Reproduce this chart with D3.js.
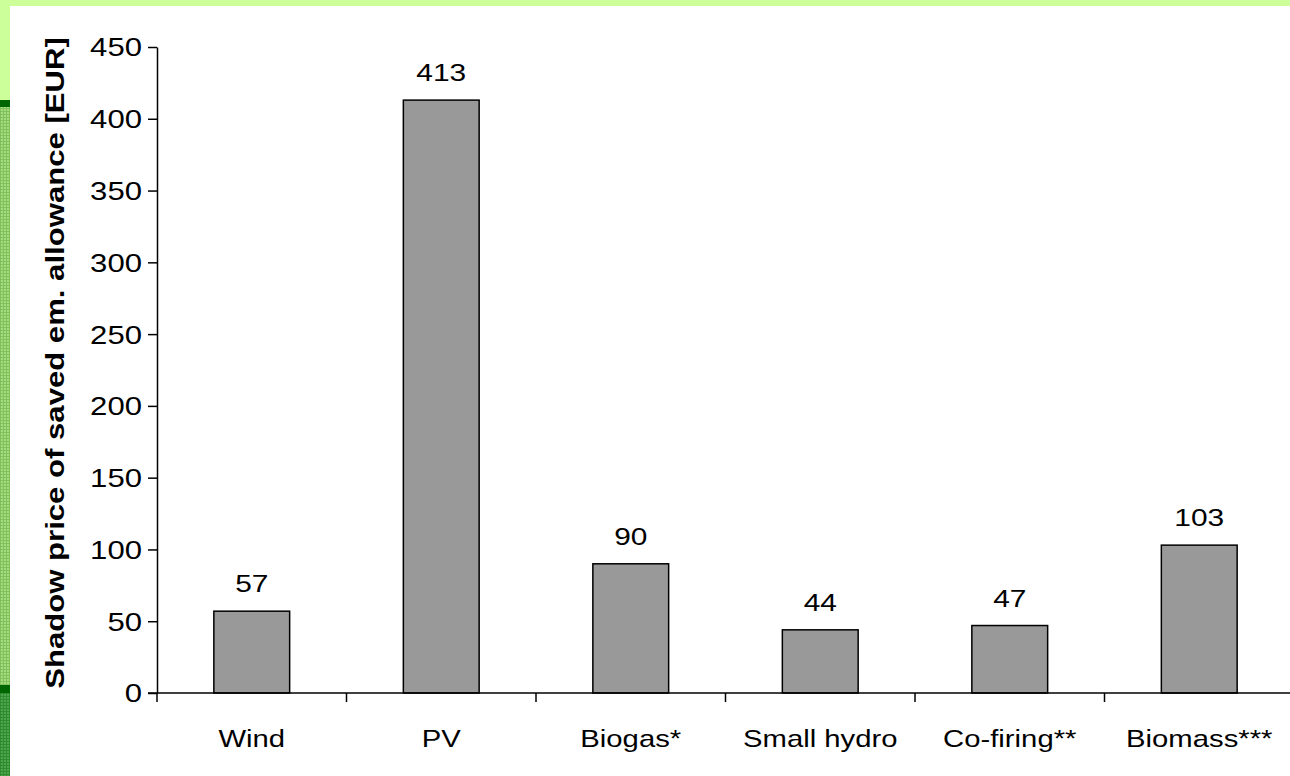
<!DOCTYPE html>
<html><head><meta charset="utf-8">
<script src="https://cdn.jsdelivr.net/npm/d3@7"></script>
<style>html,body{margin:0;padding:0;background:#fff;overflow:hidden}svg{display:block}</style>
</head><body>
<svg id="c" width="1290" height="776"></svg>
<script>
const categories = ["Wind","PV","Biogas*","Small hydro","Co-firing**","Biomass***"];
const values = [57,413,90,44,47,103];
const yTicks = [0,50,100,150,200,250,300,350,400,450];
const yTitle = "Shadow price of saved em. allowance [EUR]";

const svg = d3.select("#c");
const W = 1290, H = 776;
const SX = 1.22; // horizontal stretch of glyphs seen in the reference

// decorative frame
const defs = svg.append("defs");
const p1 = defs.append("pattern").attr("id","pm").attr("width",3).attr("height",3).attr("patternUnits","userSpaceOnUse");
p1.append("rect").attr("width",3).attr("height",3).attr("fill","#a6db80");
p1.append("rect").attr("width",1).attr("height",3).attr("fill","#7fc05a");
p1.append("rect").attr("width",3).attr("height",1).attr("fill","#7fc05a");
const p2 = defs.append("pattern").attr("id","pd").attr("width",3).attr("height",3).attr("patternUnits","userSpaceOnUse");
p2.append("rect").attr("width",3).attr("height",3).attr("fill","#4da64d");
p2.append("rect").attr("width",1).attr("height",3).attr("fill","#2e8b2e");
p2.append("rect").attr("width",3).attr("height",1).attr("fill","#2e8b2e");

svg.append("rect").attr("x",0).attr("y",0).attr("width",W).attr("height",6).attr("fill","#ccff99");
svg.append("rect").attr("x",0).attr("y",0).attr("width",10).attr("height",100).attr("fill","#ccff99");
svg.append("rect").attr("x",0).attr("y",100).attr("width",10).attr("height",7).attr("fill","#006600");
svg.append("rect").attr("x",0).attr("y",107).attr("width",10).attr("height",578).attr("fill","url(#pm)");
svg.append("rect").attr("x",0).attr("y",685).attr("width",10).attr("height",8).attr("fill","#006600");
svg.append("rect").attr("x",0).attr("y",693).attr("width",10).attr("height",H-693).attr("fill","url(#pd)");

const x0 = 157, x1 = 1294, yTop = 47, yBot = 693;
const x = d3.scaleBand().domain(categories).range([x0,x1]).paddingInner(0.6).paddingOuter(0.3);
const xb = d3.scaleBand().domain(categories).range([x0,x1]);
const y = d3.scaleLinear().domain([0,450]).range([yBot,yTop]);

const font = "'Liberation Sans', Arial, Helvetica, sans-serif";

// bars
svg.append("g").selectAll("rect").data(values).join("rect")
  .attr("x",(d,i)=>x(categories[i]))
  .attr("y",d=>y(d))
  .attr("width",x.bandwidth())
  .attr("height",d=>yBot-y(d))
  .attr("fill","#999999").attr("stroke","#000").attr("stroke-width",1.5);

// value labels
svg.append("g").selectAll("text").data(values).join("text")
  .attr("transform",(d,i)=>`translate(${xb(categories[i])+xb.bandwidth()/2},${y(d)-19}) scale(${SX},1)`)
  .attr("text-anchor","middle").attr("font-family",font).attr("font-size",24.5).attr("fill","#000")
  .text(d=>d);

// y axis
const ya = svg.append("g").attr("transform",`translate(${x0},0)`)
  .call(d3.axisLeft(y).tickValues(yTicks).tickSize(9).tickPadding(6).tickSizeOuter(0));
ya.select(".domain").attr("stroke","#000").attr("stroke-width",1.5);
ya.selectAll(".tick line").attr("stroke","#000").attr("stroke-width",1.5);
ya.selectAll(".tick text").attr("font-family",font).attr("font-size",25.5).attr("fill","#000")
  .attr("dy","0.35em")
  .each(function(){ const t=d3.select(this); const xx=+t.attr("x"); t.attr("x",null).attr("transform",`translate(${xx},0) scale(${SX},1)`); });

// x axis
const xa = svg.append("g").attr("transform",`translate(0,${yBot})`)
  .call(d3.axisBottom(xb).tickSize(0).tickPadding(0).tickSizeOuter(0));
xa.select(".domain").attr("d",`M${x0-9},0H${W}`).attr("stroke","#000").attr("stroke-width",1.5);
xa.selectAll(".tick text").remove();
xa.selectAll(".tick line").remove();
// category boundary ticks
svg.append("g").selectAll("line").data(categories).join("line")
  .attr("x1",d=>xb(d)).attr("x2",d=>xb(d)).attr("y1",yBot).attr("y2",yBot+9)
  .attr("stroke","#000").attr("stroke-width",1.5);
// category labels
svg.append("g").selectAll("text").data(categories).join("text")
  .attr("transform",d=>`translate(${xb(d)+xb.bandwidth()/2},747) scale(${SX},1)`)
  .attr("text-anchor","middle").attr("font-family",font).attr("font-size",24).attr("fill","#000")
  .text(d=>d);

// y title
svg.append("text")
  .attr("transform",`translate(64,363) rotate(-90) scale(${SX},1)`)
  .attr("text-anchor","middle").attr("font-family",font).attr("font-size",25.5).attr("font-weight","bold").attr("fill","#000")
  .text(yTitle);
</script>
</body></html>
